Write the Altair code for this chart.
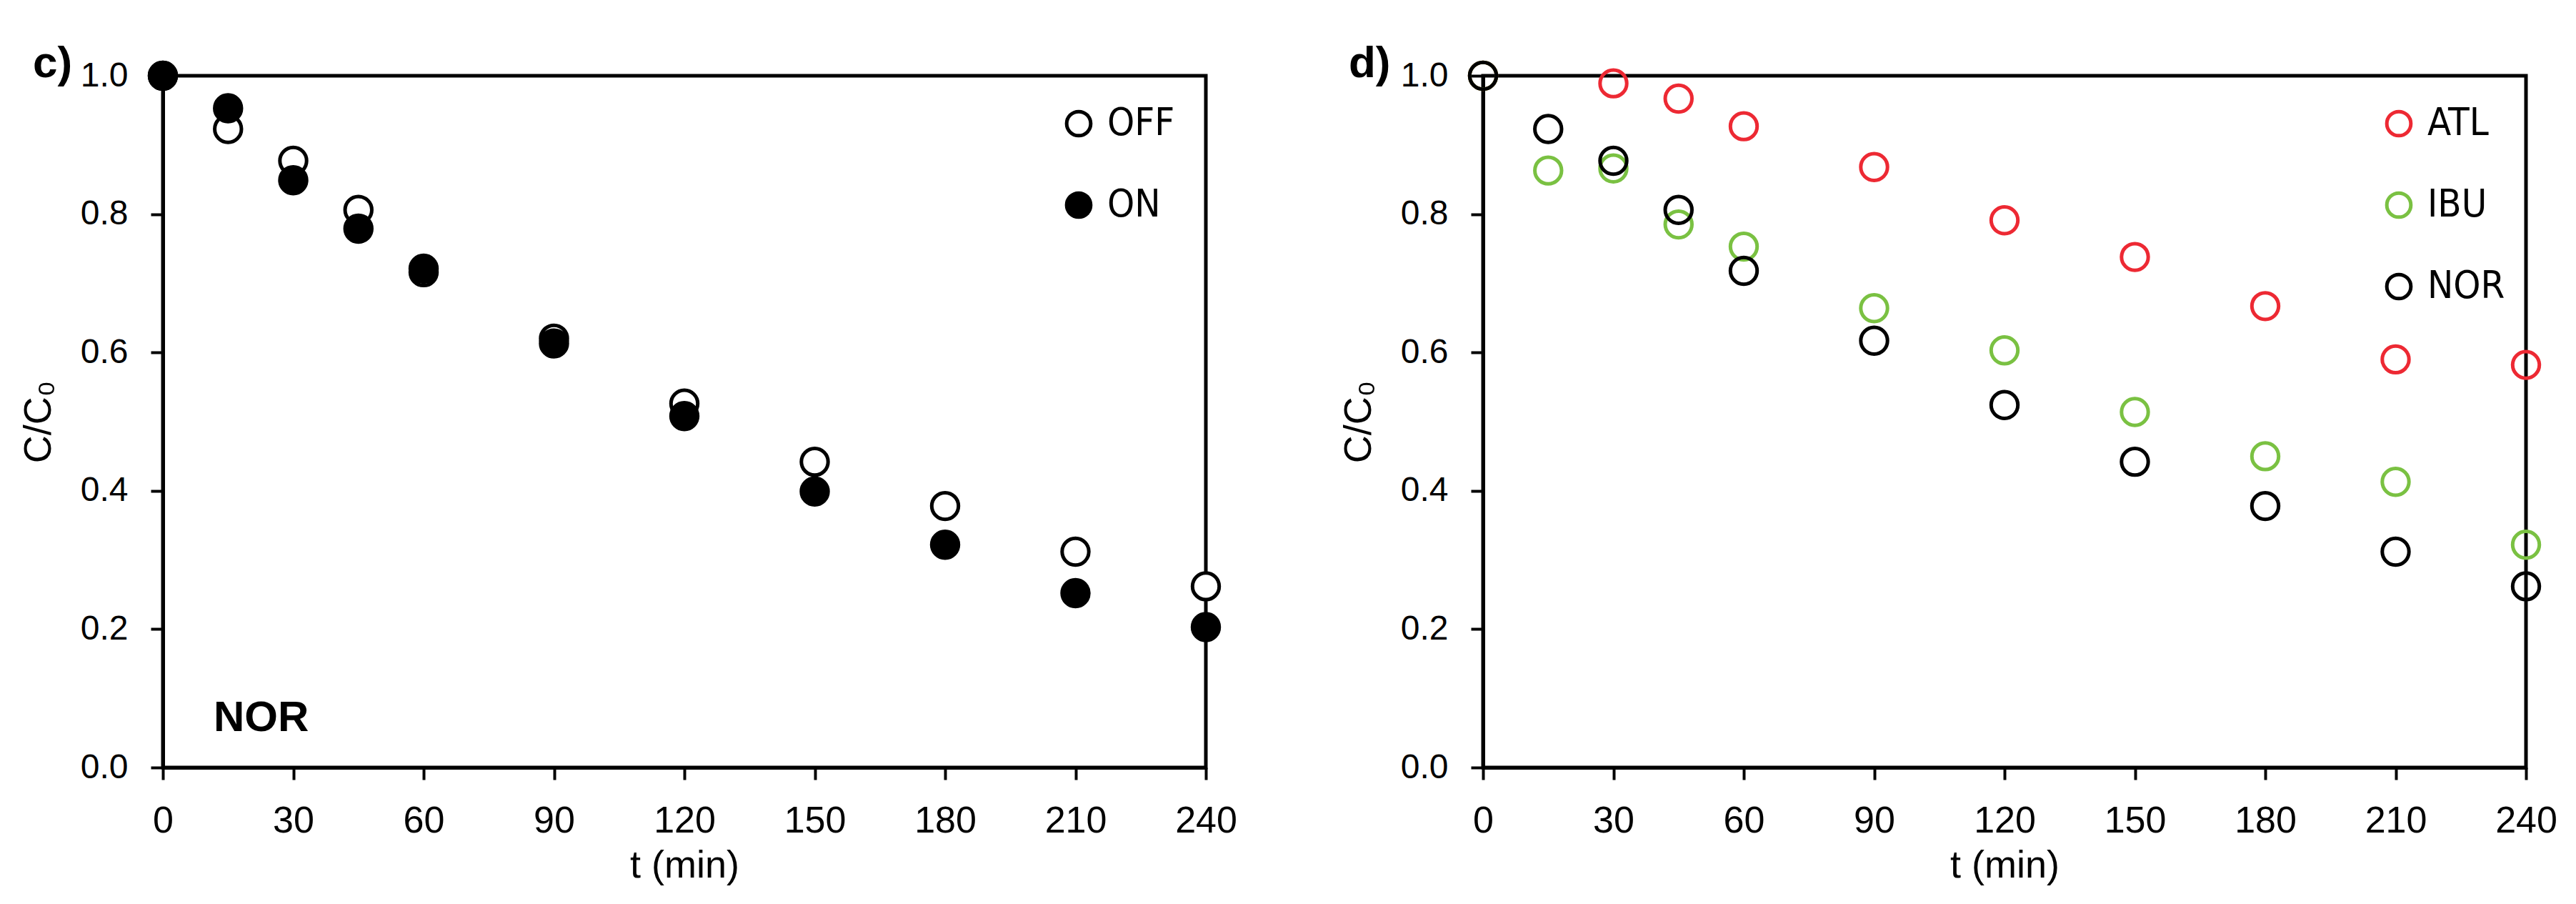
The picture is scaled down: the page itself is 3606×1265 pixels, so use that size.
import pandas as pd
import altair as alt

# sampling times (min)
TIME = [0, 15, 30, 45, 60, 90, 120, 150, 180, 210, 240]

# panel c) NOR, light OFF / ON
NOR_OFF = [1.0, 0.923, 0.877, 0.806, 0.716, 0.620, 0.526, 0.442, 0.378, 0.312, 0.262]
NOR_ON = [1.0, 0.953, 0.849, 0.779, 0.721, 0.613, 0.508, 0.399, 0.322, 0.252, 0.203]

# panel d) three compounds
ATL_TIME = [0, 30, 45, 60, 90, 120, 150, 180, 210, 240]
ATL = [1.0, 0.989, 0.967, 0.927, 0.868, 0.791, 0.738, 0.667, 0.590, 0.582]
IBU = [1.0, 0.863, 0.866, 0.785, 0.753, 0.664, 0.603, 0.514, 0.450, 0.413, 0.322]
NOR = [1.0, 0.923, 0.877, 0.806, 0.718, 0.617, 0.524, 0.442, 0.378, 0.312, 0.262]

X_TICKS = [0, 30, 60, 90, 120, 150, 180, 210, 240]
Y_TICKS = [0.0, 0.2, 0.4, 0.6, 0.8, 1.0]

W, H = 1460, 968
GAP = 388
RED, GREEN = "#ED2933", "#7AC142"
LEG_FONT = "DejaVu Sans Condensed, Liberation Sans"

c_df = pd.concat([
    pd.DataFrame({"t": TIME, "c": NOR_OFF, "light": "OFF"}),
    pd.DataFrame({"t": TIME, "c": NOR_ON, "light": "ON"}),
])
d_df = pd.concat([
    pd.DataFrame({"t": ATL_TIME, "c": ATL, "drug": "ATL"}),
    pd.DataFrame({"t": TIME, "c": IBU, "drug": "IBU"}),
    pd.DataFrame({"t": TIME, "c": NOR, "drug": "NOR"}),
])

x_enc = alt.X("t:Q", scale=alt.Scale(domain=[0, 240], nice=False),
              axis=alt.Axis(values=X_TICKS, title="t (min)", labelFontSize=52,
                            labelFlush=False, labelPadding=32, titlePadding=10))
y_enc = alt.Y("c:Q", scale=alt.Scale(domain=[0, 1], nice=False),
              axis=alt.Axis(values=Y_TICKS, format=".1f", title="C/C₀",
                            labelFontSize=48, labelPadding=32, titlePadding=31))


def label(txt, x, y, size):
    return alt.Chart(pd.DataFrame({"s": [txt]})).mark_text(
        align="left", baseline="alphabetic", font="Liberation Sans",
        fontWeight="bold", fontSize=size, color="black"
    ).encode(x=alt.value(x), y=alt.value(y), text="s:N")


def legend(x):
    return alt.Legend(orient="none", legendX=x, legendY=40, title=None,
                      labelFont=LEG_FONT, labelFontSize=54, labelColor="black",
                      labelOffset=13, symbolType="circle", symbolSize=1134,
                      symbolStrokeWidth=5, symbolStrokeColor="black",
                      rowPadding=60, padding=0)


# legends of a concat sit in the top-level group, so legendX counts from panel c's origin
leg_c = legend(1255)
leg_d = legend(1255 + W + GAP)
leg_d.symbolStrokeColor = alt.Undefined

pts_c = alt.Chart(c_df).mark_point(
    shape="circle", size=1400, strokeWidth=5, stroke="black", opacity=1
).encode(
    x=x_enc, y=y_enc,
    fill=alt.Fill("light:N", scale=alt.Scale(domain=["OFF", "ON"], range=["white", "black"]),
                  legend=leg_c),
    order=alt.Order("light:N"),
)

pts_d = alt.Chart(d_df).mark_point(
    shape="circle", size=1400, strokeWidth=5, filled=False, opacity=1
).encode(
    x=x_enc, y=y_enc,
    stroke=alt.Stroke("drug:N", scale=alt.Scale(domain=["ATL", "IBU", "NOR"], range=[RED, GREEN, "black"]),
                      legend=leg_d),
)

panel_c = alt.layer(pts_c, label("c)", -182, 2, 62), label("NOR", 71, 917, 60)).properties(width=W, height=H)
panel_d = alt.layer(pts_d, label("d)", -188, 2, 62)).properties(width=W, height=H)

chart = alt.hconcat(panel_c, panel_d, spacing=GAP, bounds="flush").properties(
    padding={"left": 16, "top": 47, "right": 5, "bottom": 5},
    background="white",
).configure_view(
    stroke="black", strokeWidth=5
).configure_axis(
    grid=False, domainColor="black", domainWidth=5, tickColor="black",
    tickWidth=4, tickSize=17, labelColor="black", titleColor="black",
    labelFont="Liberation Sans", titleFont="Liberation Sans",
    titleFontSize=54, titleFontWeight="normal"
)

chart.save("out.html", embed_options={"renderer": "svg", "actions": False})
